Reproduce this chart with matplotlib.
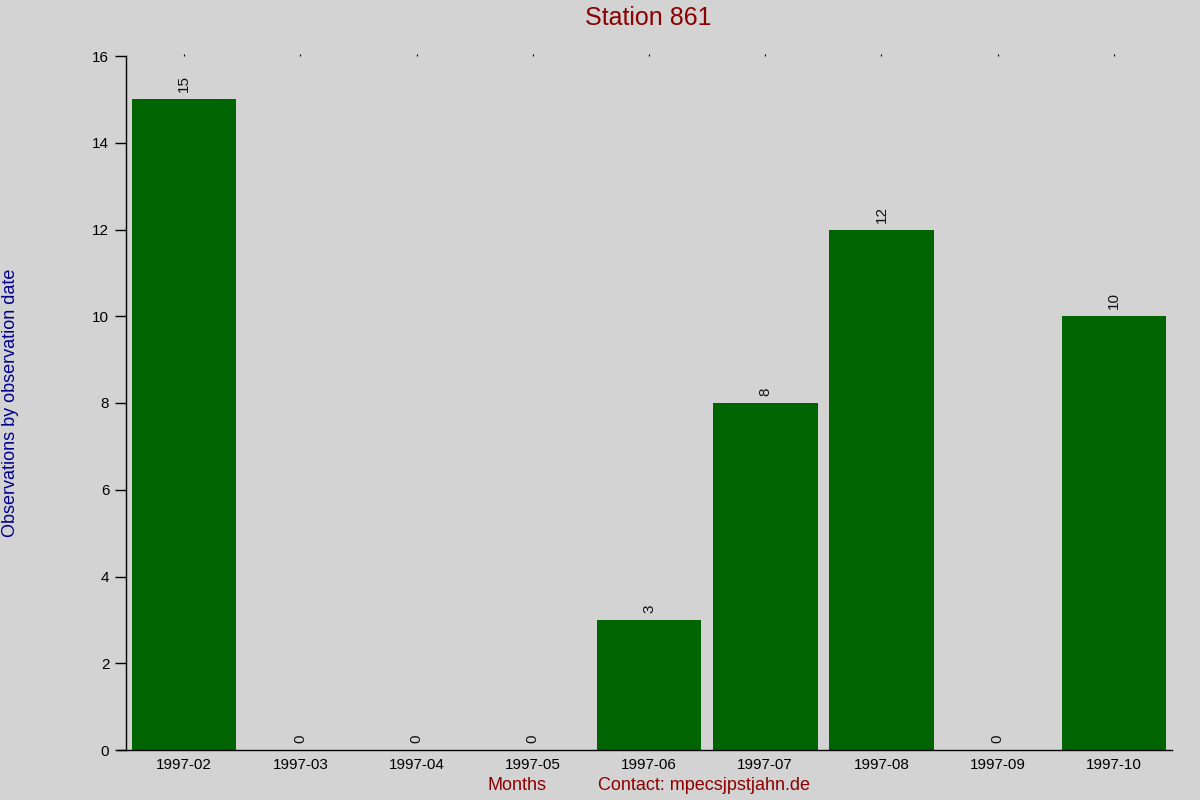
import matplotlib
matplotlib.use("Agg")
import matplotlib.pyplot as plt

months = ["1997-02", "1997-03", "1997-04", "1997-05", "1997-06",
          "1997-07", "1997-08", "1997-09", "1997-10"]
counts = [15, 0, 0, 0, 3, 8, 12, 0, 10]
yticks = [0, 2, 4, 6, 8, 10, 12, 14, 16]

plt.rcParams['font.family'] = ['Liberation Sans', 'DejaVu Sans']
bg = '#d3d3d3'
fig = plt.figure(figsize=(12, 8), dpi=100, facecolor=bg)
ax = fig.add_axes([126/1200, 50/800, (1172-126)/1200, (750-56)/800])
ax.set_facecolor(bg)

x = list(range(len(months)))
ax.bar(x, counts, width=0.9, color='#006400')
for xi, v in zip(x, counts):
    ax.annotate(str(v), (xi, v), xytext=(0, 5), textcoords='offset points',
                rotation=90, ha='center', va='bottom', fontsize=11, color='#111111')

ax.set_xlim(-0.5, len(months) - 0.5)
ax.set_ylim(0, 16)
ax.set_yticks(yticks)
ax.set_xticks(x)
ax.set_xticklabels(months)
for s in ['top', 'right']:
    ax.spines[s].set_visible(False)
ax.spines['left'].set_linewidth(1)
ax.spines['bottom'].set_linewidth(1)
ax.spines['bottom'].set_bounds(-0.57, len(months) - 0.5)
ax.tick_params(axis='y', length=8, width=1, labelsize=11, pad=4)
ax.tick_params(axis='x', bottom=False, top=True, length=1.5, width=0.8,
               labelsize=11, pad=4, labelbottom=True, labeltop=False)

fig.text(648/1200, 1 - 18/800, "Station 861", ha='center', va='center',
         fontsize=18, color='#8b0000')
fig.text(11/1200, 1 - 403/800, "Observations by observation date", rotation=90,
         ha='center', va='center', fontsize=13, color='#00008b')
fig.text(517/1200, 1 - 786/800, "Months", ha='center', va='center',
         fontsize=13, color='#8b0000')
fig.text(598/1200, 1 - 786/800, "Contact: mpecsjpstjahn.de", ha='left', va='center',
         fontsize=13, color='#8b0000')

fig.savefig("out.png", dpi=100, facecolor=bg)
